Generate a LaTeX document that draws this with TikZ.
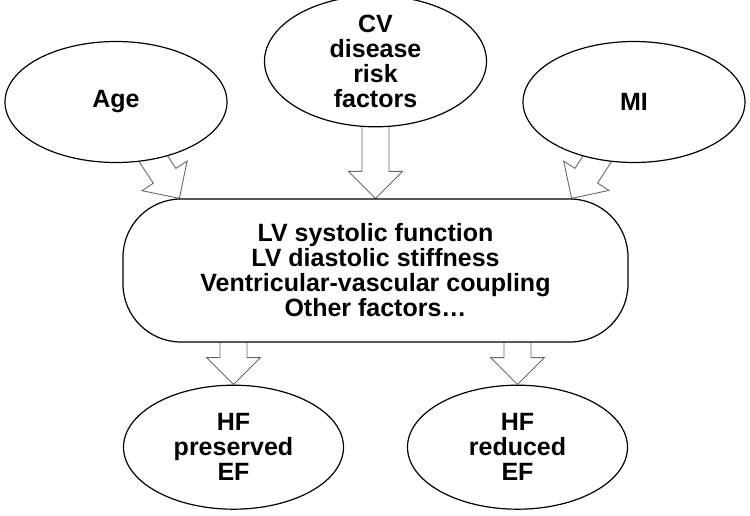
\documentclass[tikz,border=0pt]{standalone}
\usepackage{fontspec}
\setmainfont{Liberation Sans}
\usepackage{tikz}
\usetikzlibrary{
    shapes,
    positioning,
    calc,
    backgrounds
}
\definecolor{arrowgray}{RGB}{105,105,105}
\tikzset{cause/.style={
    draw,
    ellipse,
    fill=white,
    line width=1.2pt,
    inner sep=0pt,
    align=center,
    minimum width=222pt,
    minimum height=121pt,
    font=\bfseries\fontsize{25}{25}\selectfont,
}}
\tikzset{outcome/.style={
    cause,
    minimum width=220pt,
    minimum height=124pt,
}}
\tikzset{factors/.style={
    draw,
    fill=white,
    line width=1.2pt,
    inner sep=0pt,
    align=center,
    minimum width=505pt,
    minimum height=143pt,
    rounded corners=58pt,
    font=\bfseries\fontsize{25}{25}\selectfont,
}}
\tikzset{fatarrow/.style={
    draw=arrowgray,
    fill=white,
    line width=0.9pt,
    line join=miter,
}}
\newcommand{\shaftw}{13.5pt}
\newcommand{\headw}{27pt}
\newcommand{\headlen}{27pt}
% hollow block arrow from #1 to #2, #3 names its head base
\newcommand{\fatarrow}[3]{%
  \coordinate (#3) at ($(#2)!\headlen!(#1)$);
  \draw[fatarrow] ($(#1)!\shaftw!90:(#2)$) -- ($(#3)!\shaftw!90:(#2)$)
    -- ($(#3)!\headw!90:(#2)$) -- (#2) -- ($(#3)!\headw!-90:(#2)$)
    -- ($(#3)!\shaftw!-90:(#2)$) -- ($(#1)!\shaftw!-90:(#2)$);
}

\begin{document}
\begin{tikzpicture}[x=1pt,y=-1pt]
    \useasboundingbox (0,0) rectangle (750,516);

    \node[factors] (box) at (375.5,270.5) {LV systolic function\\LV diastolic stiffness\\Ventricular-vascular coupling\\Other factors…};

    \node[cause, above=71pt of box] (cv) {CV\\disease\\risk\\factors};
    \node[cause] (age) at (116,102) {Age};
    \node[cause] (mi) at (634,102) {MI};

    \node[outcome, below=42pt of box, xshift=-142pt] (hfp) {HF\\preserved\\EF};
    \node[outcome, below=42pt of box, xshift=142pt] (hfr) {HF\\reduced\\EF};

    \begin{scope}[on background layer]
        \coordinate (age-tip) at ($(box.north west)+(57,0)$);
        \coordinate (mi-tip) at ($(box.north east)+(-57,0)$);
        \coordinate (hfp-start) at (hfp.north |- box.center);
        \coordinate (hfr-start) at (hfr.north |- box.center);
        \fatarrow{age.center}{age-tip}{age-head}
        \fatarrow{cv.center}{box.north}{cv-head}
        \fatarrow{mi.center}{mi-tip}{mi-head}
        \fatarrow{hfp-start}{hfp.north}{hfp-head}
        \fatarrow{hfr-start}{hfr.north}{hfr-head}
    \end{scope}
\end{tikzpicture}
\end{document}
